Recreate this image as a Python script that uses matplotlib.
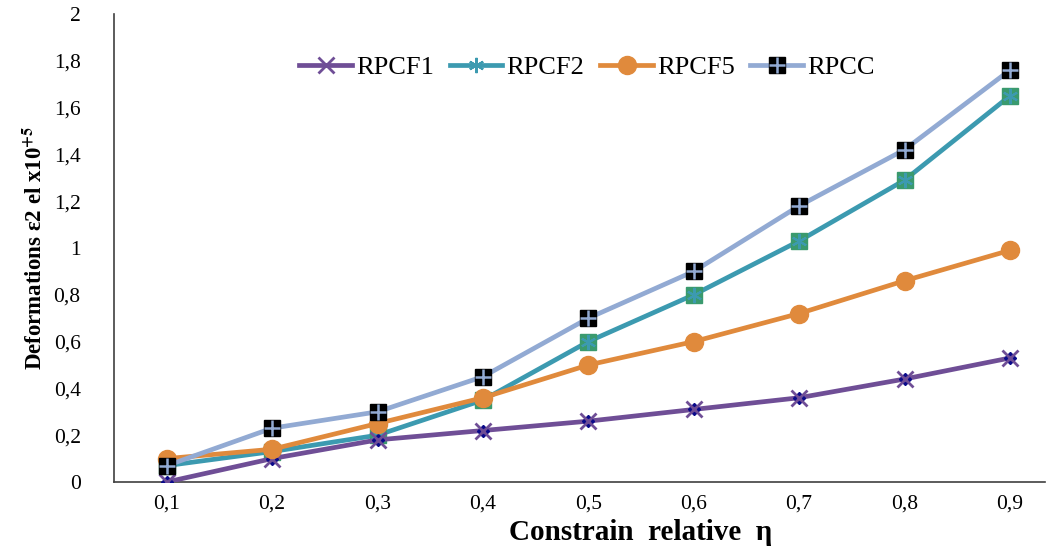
import matplotlib
matplotlib.use("Agg")
import matplotlib.pyplot as plt
from matplotlib.lines import Line2D

categories = ["0,1", "0,2", "0,3", "0,4", "0,5", "0,6", "0,7", "0,8", "0,9"]
rpcf1 = [0.00, 0.10, 0.18, 0.22, 0.26, 0.31, 0.36, 0.44, 0.53]
rpcf2 = [0.07, 0.13, 0.20, 0.35, 0.60, 0.80, 1.03, 1.29, 1.65]
rpcf5 = [0.10, 0.14, 0.25, 0.36, 0.50, 0.60, 0.72, 0.86, 0.99]
rpcc = [0.07, 0.23, 0.30, 0.45, 0.70, 0.90, 1.18, 1.42, 1.76]
yticks = [0, 0.2, 0.4, 0.6, 0.8, 1, 1.2, 1.4, 1.6, 1.8, 2]
yticklabels = ["0", "0,2", "0,4", "0,6", "0,8", "1", "1,2", "1,4", "1,6", "1,8", "2"]

plt.rcParams['font.family'] = ['Liberation Serif', 'DejaVu Serif']
plt.rcParams['mathtext.fontset'] = 'stix'

c1 = '#6F4E96'
c2 = '#3C9AB0'
c2m = '#3A9A6E'
c5 = '#E08A3C'
cc = '#92AAD3'

fig = plt.figure(figsize=(10.53, 5.52), dpi=100)
ax = fig.add_axes([114/1053, 1-482/552, (1045-114)/1053, (482-14)/552])
x = list(range(len(categories)))
lw = 3.4

# RPCF2
ax.plot(x, rpcf2, color=c2, lw=lw, zorder=2)
ax.plot(x, rpcf2, ls='none', marker='s', ms=12, mfc=c2m, mec=c2m, zorder=3)
ax.plot(x, rpcf2, ls='none', marker=(6, 2, 0), ms=11, mec=c2, mew=1.5, zorder=3.1)
# RPCF1
ax.plot(x, rpcf1, color=c1, lw=lw, zorder=4)
ax.plot(x, rpcf1, ls='none', marker='D', ms=6, mfc='#0A0A8A', mec='#0A0A8A', zorder=4.1)
ax.plot(x, rpcf1, ls='none', marker='x', ms=11, mec=c1, mew=2, zorder=4.2)
# RPCF5
ax.plot(x, rpcf5, color=c5, lw=lw, zorder=5)
ax.plot(x, rpcf5, ls='none', marker='o', ms=13, mfc=c5, mec=c5, zorder=5.1)
# RPCC
ax.plot(x, rpcc, color=cc, lw=lw, zorder=6)
ax.plot(x, rpcc, ls='none', marker='s', ms=12, mfc='black', mec='black', zorder=6.1)
ax.plot(x, rpcc, ls='none', marker='+', ms=11, mec=cc, mew=1.8, zorder=6.2)

ax.set_xlim(-0.5, (1045-114)/105.4 - 0.5)
ax.set_ylim(0, 2)
ax.set_xticks(x)
ax.set_xticklabels(categories, fontsize=15.5)
ax.set_yticks(yticks)
ax.set_yticklabels(yticklabels, fontsize=15.5)
ax.tick_params(length=0)
ax.tick_params(axis='x', pad=9)
ax.tick_params(axis='y', pad=24)
for s in ['top', 'right']:
    ax.spines[s].set_visible(False)
for s in ['left', 'bottom']:
    ax.spines[s].set_color('#404040')
    ax.spines[s].set_linewidth(1.2)

fig.text(641/1053, 1-533/552, 'Constrain  relative  η', fontsize=21, fontweight='bold',
         ha='center', va='center')
ax.set_ylabel(r'Deformations ε2 el x10$^{\mathbf{+5}}$', fontsize=16.5, fontweight='bold', labelpad=5)

handles = [
    Line2D([], [], color=c1, lw=lw, marker='x', ms=11, mec=c1, mew=2),
    Line2D([], [], color=c2, lw=lw, marker=(6, 2, 0), ms=11, mec=c2, mew=1.5),
    Line2D([], [], color=c5, lw=lw, marker='o', ms=13, mfc=c5, mec=c5),
    (Line2D([], [], color=cc, lw=lw, marker='s', ms=12, mfc='black', mec='black'),
     Line2D([], [], ls='none', marker='+', ms=11, mec=cc, mew=1.8)),
]
labels = ['RPCF1', 'RPCF2', 'RPCF5', 'RPCC']
leg = ax.legend(handles, labels, loc='center', bbox_to_anchor=(0.508, 0.886), ncol=4,
                frameon=False, fontsize=19, handlelength=2.0, columnspacing=0.6, handletextpad=0.15)

fig.savefig('out.png', dpi=100)
